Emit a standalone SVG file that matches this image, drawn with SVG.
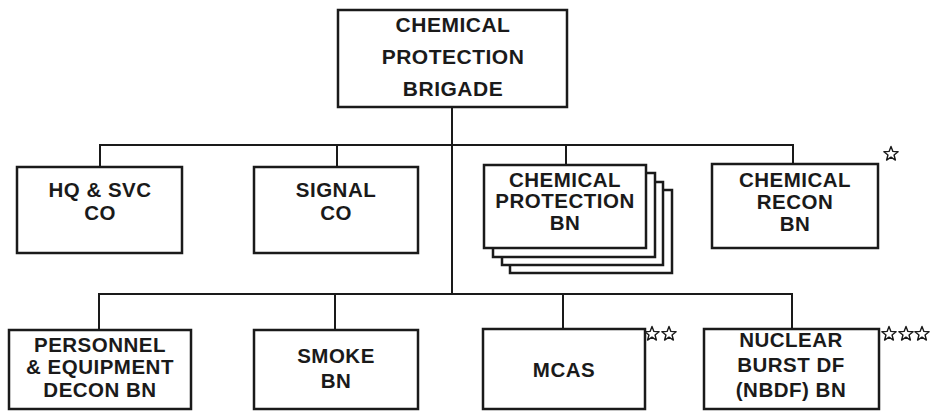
<svg xmlns="http://www.w3.org/2000/svg" width="935" height="411" viewBox="0 0 935 411">
<style>
.box{fill:#fff;stroke:#1a1a1a;stroke-width:2.5}
.ln{fill:none;stroke:#1a1a1a;stroke-width:2}
.t{font-family:"Liberation Sans",Arial,sans-serif;font-weight:bold;font-size:20.5px;letter-spacing:0.5px;fill:#1a1a1a;text-anchor:middle}
.top{font-size:21px}
.star{fill:#fff;stroke:#1a1a1a;stroke-width:1.4;stroke-linejoin:round}
</style>
<defs>
<polygon id="st" class="star" points="0,-7.5 1.9,-2.6 7.1,-2.3 3.05,1 4.4,6.05 0,3.2 -4.4,6.05 -3.05,1 -7.1,-2.3 -1.9,-2.6"/>
</defs>
<rect width="935" height="411" fill="#fff"/>
<g id="connectors">
<path class="ln" d="M452,107 V294"/>
<path class="ln" d="M100,167 V145 H793 V164"/>
<path class="ln" d="M337,145 V167"/>
<path class="ln" d="M566,145 V165"/>
<path class="ln" d="M99,330 V294 H792 V329"/>
<path class="ln" d="M335,294 V330"/>
<path class="ln" d="M563,294 V329"/>
</g>
<g id="brigade">
<rect class="box" x="338" y="10" width="229" height="97"/>
<text class="t top" x="453" y="32">CHEMICAL</text>
<text class="t top" x="453" y="64">PROTECTION</text>
<text class="t top" x="453" y="96">BRIGADE</text>
</g>
<g id="hq">
<rect class="box" x="17" y="167" width="165" height="86"/>
<text class="t" x="100" y="197">HQ &amp; SVC</text>
<text class="t" x="100" y="220">CO</text>
</g>
<g id="signal">
<rect class="box" x="254" y="167" width="164" height="86"/>
<text class="t" x="336" y="197">SIGNAL</text>
<text class="t" x="336" y="220">CO</text>
</g>
<g id="chem-prot-bn">
<rect class="box" x="510" y="190" width="162" height="83"/>
<rect class="box" x="502" y="182" width="161" height="83"/>
<rect class="box" x="493" y="173" width="162" height="84"/>
<rect class="box" x="484" y="165" width="162" height="83"/>
<text class="t" x="565" y="187">CHEMICAL</text>
<text class="t" x="565" y="208">PROTECTION</text>
<text class="t" x="565" y="230">BN</text>
</g>
<g id="recon">
<rect class="box" x="712" y="164" width="166" height="84"/>
<text class="t" x="795" y="187">CHEMICAL</text>
<text class="t" x="795" y="209">RECON</text>
<text class="t" x="795" y="231">BN</text>
<use href="#st" x="891" y="154"/>
</g>
<g id="decon">
<rect class="box" x="9" y="330" width="182" height="79"/>
<text class="t" x="100" y="352">PERSONNEL</text>
<text class="t" x="100" y="374">&amp; EQUIPMENT</text>
<text class="t" x="100" y="397">DECON BN</text>
</g>
<g id="smoke">
<rect class="box" x="254" y="330" width="164" height="79"/>
<text class="t" x="336" y="363">SMOKE</text>
<text class="t" x="336" y="388">BN</text>
</g>
<g id="mcas">
<rect class="box" x="483" y="329" width="162" height="80"/>
<text class="t" x="564" y="377">MCAS</text>
<use href="#st" x="652" y="334"/>
<use href="#st" x="669" y="334"/>
</g>
<g id="nbdf">
<rect class="box" x="704" y="329" width="175" height="80"/>
<text class="t" x="791" y="347">NUCLEAR</text>
<text class="t" x="791" y="372">BURST DF</text>
<text class="t" x="791" y="397">(NBDF) BN</text>
<use href="#st" x="889" y="334"/>
<use href="#st" x="906" y="334"/>
<use href="#st" x="922" y="334"/>
</g>
</svg>
